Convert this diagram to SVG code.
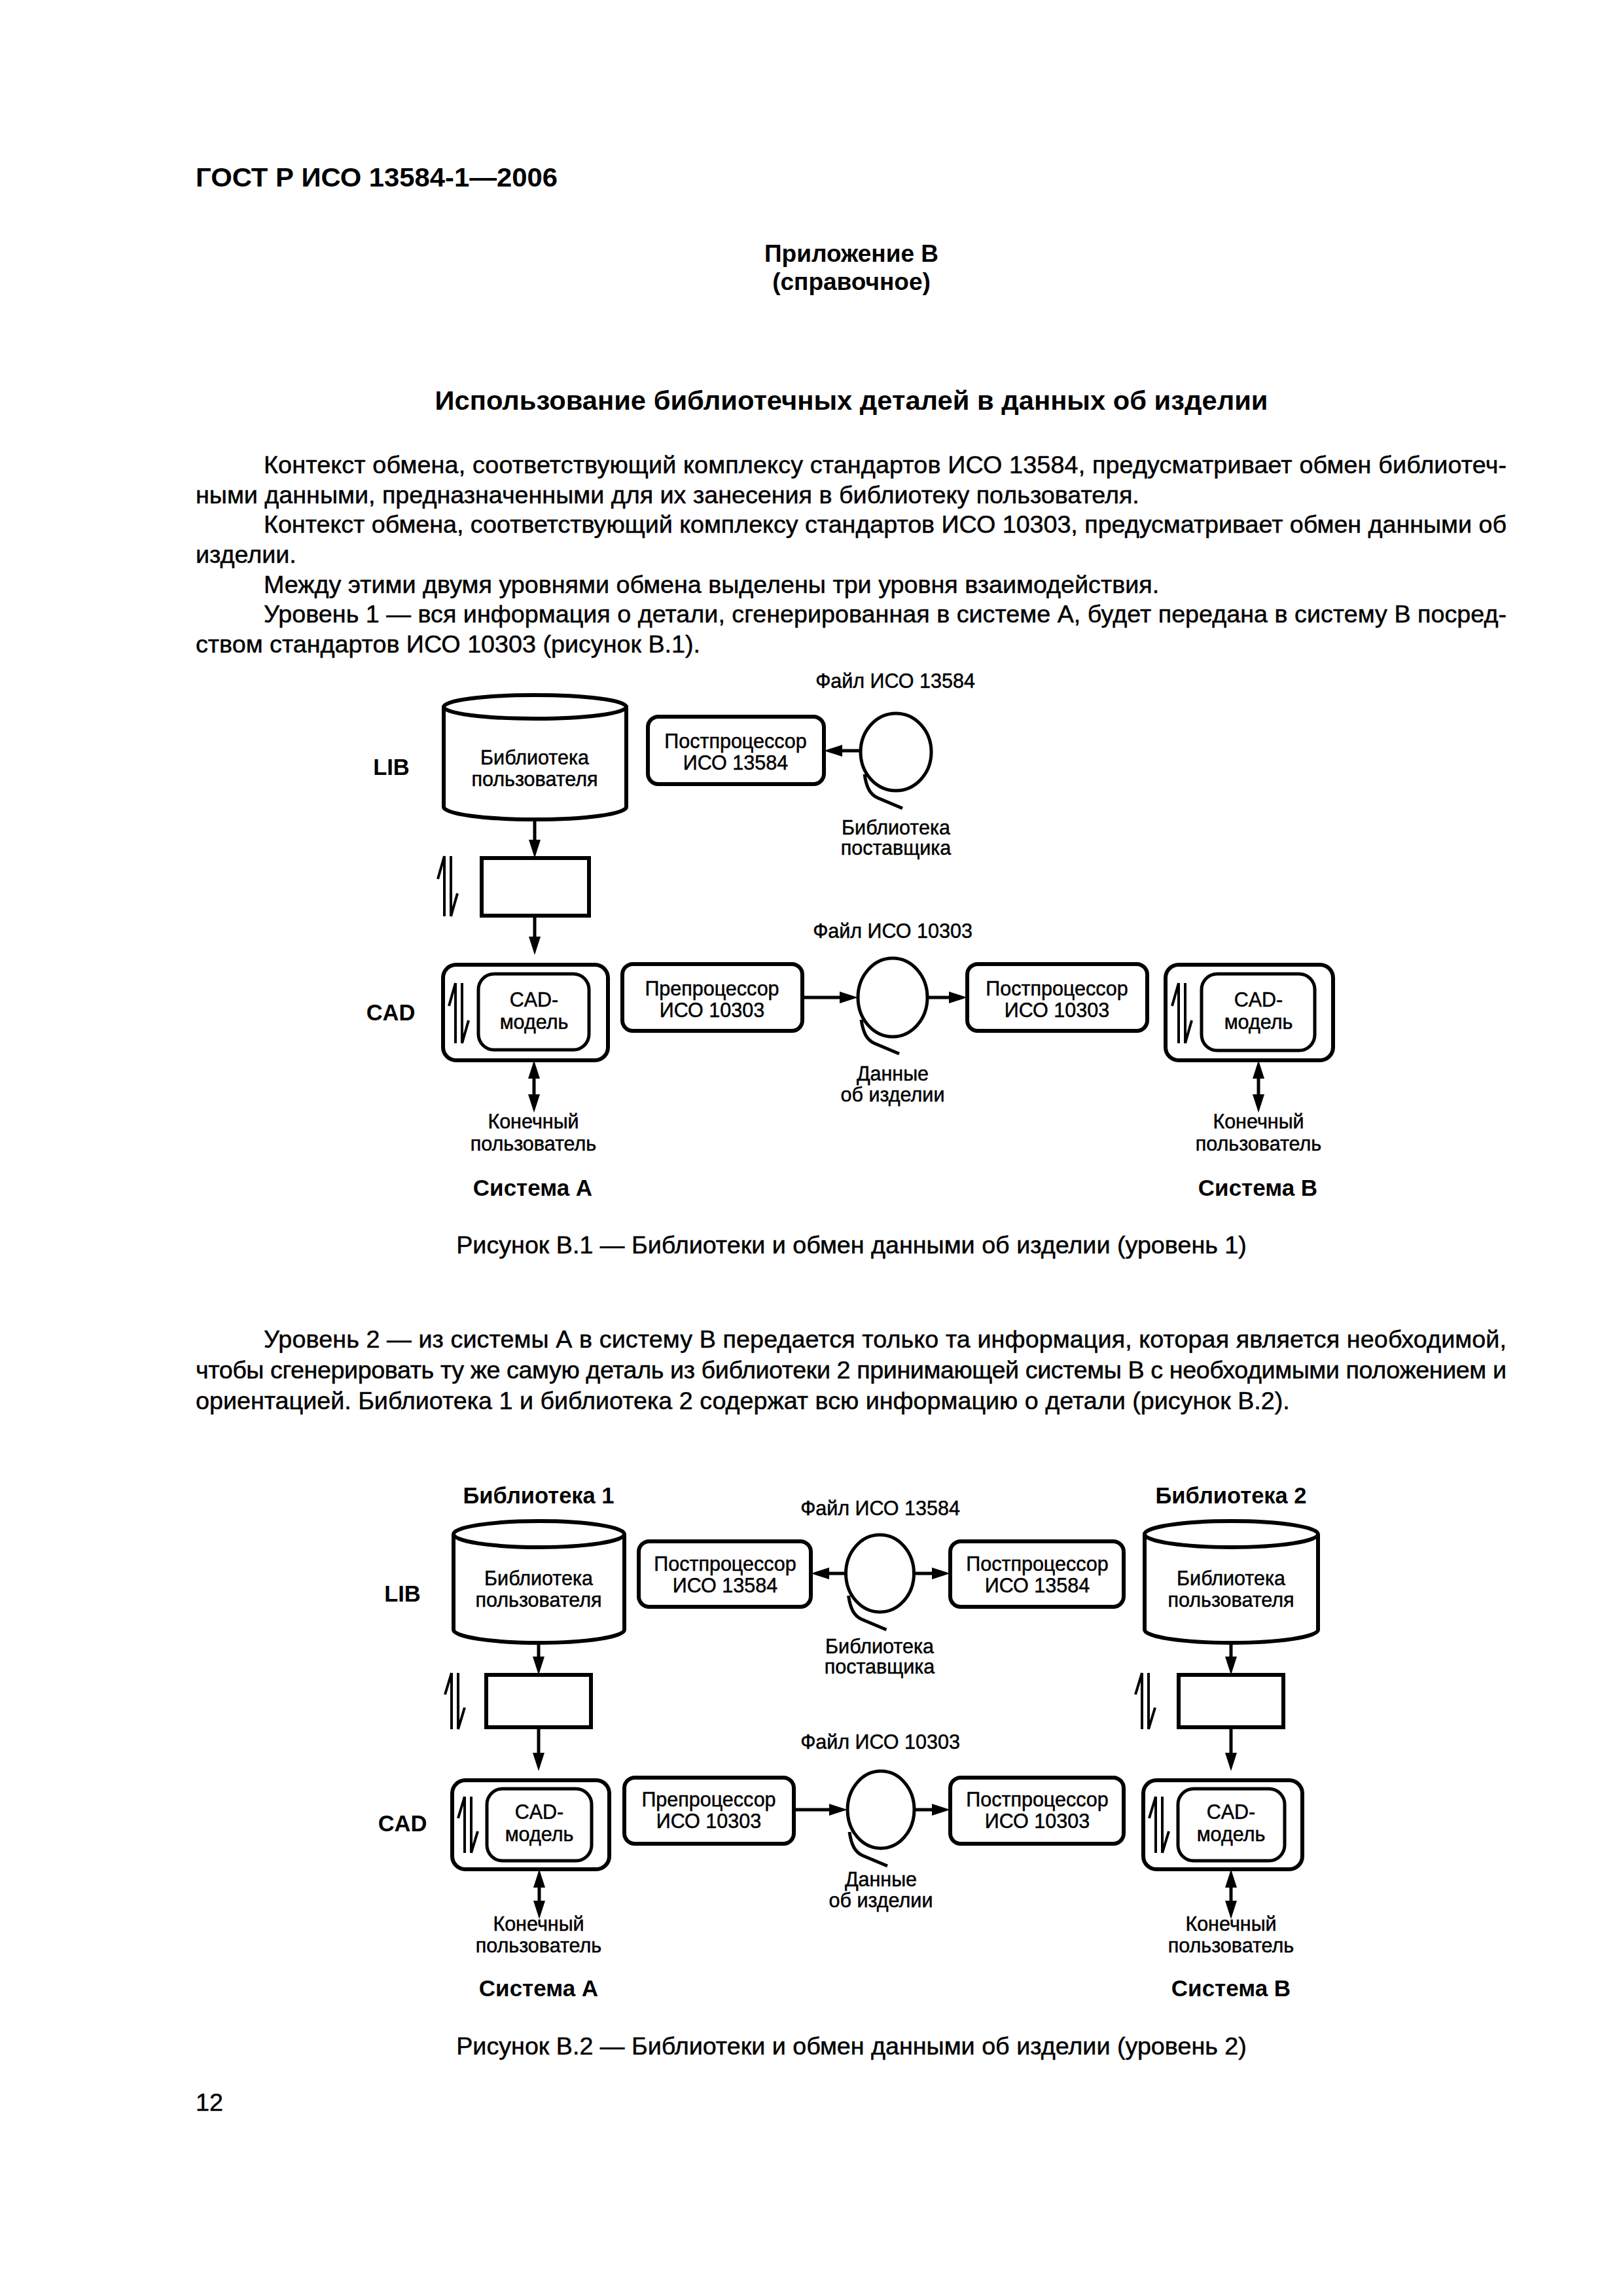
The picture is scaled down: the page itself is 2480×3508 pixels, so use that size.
<svg xmlns="http://www.w3.org/2000/svg" xmlns:xlink="http://www.w3.org/1999/xlink" width="2480" height="3508" viewBox="0 0 2480 3508">
<style>
text { font-family: "Liberation Sans", Arial, sans-serif; fill: #000; }
.body { font-size: 37.7px; stroke: #000; stroke-width: 0.5; }
.hd { font-size: 40px; font-weight: bold; }
.ctr { text-anchor: middle; }
.lbl { font-size: 30.5px; text-anchor: middle; stroke: #000; stroke-width: 0.5; }
.blbl { font-size: 34.5px; font-weight: bold; text-anchor: middle; }
.box { fill: #fff; stroke: #000; stroke-width: 6; }
.ibox { fill: #fff; stroke: #000; stroke-width: 5; }
.reel { fill: #fff; stroke: #000; stroke-width: 5; }
.tail { fill: none; stroke: #000; stroke-width: 5; }
.con { fill: none; stroke: #000; stroke-width: 5; }
.harp { fill: none; stroke: #000; stroke-width: 4; }
</style>
<defs>
<marker id="ah" viewBox="0 0 28 18" refX="14" refY="9" markerWidth="28" markerHeight="18" markerUnits="userSpaceOnUse" orient="auto-start-reverse">
<path d="M0,0 L28,9 L0,18 z" fill="#000"/>
</marker>
<path id="harp92" class="harp" d="M0,0 V92 M0,0 L-10,35 M10,0 V92 M10,92 L20,57"/>
<path id="harp86" class="harp" d="M0,0 V86 M0,0 L-10,33 M10,0 V86 M10,86 L20,53"/>
<path id="tailp" d="M-48,34 C-45,55 -39,65 -28,70 L10,86"/>
</defs>
<rect width="2480" height="3508" fill="#fff"/>

<g id="page-text">
<text class="hd" x="299" y="285" textLength="553" lengthAdjust="spacingAndGlyphs">ГОСТ Р ИСО 13584-1—2006</text>
<text class="hd ctr" x="1301" y="400" style="font-size:37px">Приложение В</text>
<text class="hd ctr" x="1301" y="443" style="font-size:37px">(справочное)</text>
<text class="hd ctr" x="1301" y="626" style="font-size:41.5px" textLength="1273" lengthAdjust="spacingAndGlyphs">Использование библиотечных деталей в данных об изделии</text>
<text class="body" x="403" y="723" textLength="1899" lengthAdjust="spacing">Контекст обмена, соответствующий комплексу стандартов ИСО 13584, предусматривает обмен библиотеч-</text>
<text class="body" x="299" y="769">ными данными, предназначенными для их занесения в библиотеку пользователя.</text>
<text class="body" x="403" y="814" textLength="1899" lengthAdjust="spacing">Контекст обмена, соответствующий комплексу стандартов ИСО 10303, предусматривает обмен данными об</text>
<text class="body" x="299" y="860">изделии.</text>
<text class="body" x="403" y="906">Между этими двумя уровнями обмена выделены три уровня взаимодействия.</text>
<text class="body" x="403" y="951" textLength="1899" lengthAdjust="spacing">Уровень 1 — вся информация о детали, сгенерированная в системе А, будет передана в систему В посред-</text>
<text class="body" x="299" y="997">ством стандартов ИСО 10303 (рисунок В.1).</text>
<text class="body ctr" x="1301" y="1915">Рисунок В.1 — Библиотеки и обмен данными об изделии (уровень 1)</text>
<text class="body" x="403" y="2059" textLength="1899" lengthAdjust="spacing">Уровень 2 — из системы А в систему В передается только та информация, которая является необходимой,</text>
<text class="body" x="299" y="2106" textLength="2003" lengthAdjust="spacing">чтобы сгенерировать ту же самую деталь из библиотеки 2 принимающей системы В с необходимыми положением и</text>
<text class="body" x="299" y="2153">ориентацией. Библиотека 1 и библиотека 2 содержат всю информацию о детали (рисунок В.2).</text>
<text class="body ctr" x="1301" y="3139">Рисунок В.2 — Библиотеки и обмен данными об изделии (уровень 2)</text>
<text class="body" x="299" y="3225">12</text>
</g>

<!-- ========== FIGURE 1 ========== -->
<g id="f1-labels">
<text class="lbl" x="1368" y="1051">Файл ИСО 13584</text>
<text class="lbl" x="1364" y="1433">Файл ИСО 10303</text>
<text class="blbl" x="598" y="1184">LIB</text>
<text class="blbl" x="597" y="1559">CAD</text>
<text class="blbl" x="814" y="1827" style="font-size:35px">Система А</text>
<text class="blbl" x="1922" y="1827" style="font-size:35px">Система В</text>
</g>

<g id="f1-userlib">
<path class="box" d="M678,1080 V1233 A139.5,19 0 0 0 957,1233 V1080"/>
<ellipse class="box" cx="817.5" cy="1080" rx="139.5" ry="18"/>
<text class="lbl" x="817" y="1168">Библиотека</text>
<text class="lbl" x="817" y="1201">пользователя</text>
</g>

<g id="f1-post13584">
<rect class="box" x="990" y="1095" width="269" height="103" rx="16"/>
<text class="lbl" x="1124" y="1143">Постпроцессор</text>
<text class="lbl" x="1124" y="1176">ИСО 13584</text>
</g>

<g id="f1-vendorlib">
<use xlink:href="#tailp" class="tail" transform="translate(1369,1149)"/>
<ellipse class="reel" cx="1369" cy="1149" rx="54" ry="59"/>
<text class="lbl" x="1369" y="1275">Библиотека</text>
<text class="lbl" x="1369" y="1306">поставщика</text>
</g>

<g id="f1-smallbox">
<rect class="box" x="736" y="1311" width="164" height="88"/>
<use xlink:href="#harp92" x="679" y="1308"/>
</g>

<g id="f1-cadA">
<rect class="box" x="677" y="1474" width="252" height="146" rx="20"/>
<rect class="ibox" x="731" y="1488" width="169" height="116" rx="24"/>
<use xlink:href="#harp92" x="696" y="1502"/>
<text class="lbl" x="816" y="1538">CAD-</text>
<text class="lbl" x="816" y="1572">модель</text>
</g>

<g id="f1-pre10303">
<rect class="box" x="951" y="1473" width="275" height="102" rx="16"/>
<text class="lbl" x="1088" y="1521">Препроцессор</text>
<text class="lbl" x="1088" y="1554">ИСО 10303</text>
</g>

<g id="f1-productdata">
<use xlink:href="#tailp" class="tail" transform="translate(1364,1524)"/>
<ellipse class="reel" cx="1364" cy="1524" rx="53" ry="60"/>
<text class="lbl" x="1364" y="1651">Данные</text>
<text class="lbl" x="1364" y="1683">об изделии</text>
</g>

<g id="f1-post10303">
<rect class="box" x="1478" y="1473" width="275" height="102" rx="16"/>
<text class="lbl" x="1615" y="1521">Постпроцессор</text>
<text class="lbl" x="1615" y="1554">ИСО 10303</text>
</g>

<g id="f1-cadB">
<rect class="box" x="1781" y="1474" width="256" height="146" rx="20"/>
<rect class="ibox" x="1836" y="1488" width="173" height="117" rx="24"/>
<use xlink:href="#harp92" x="1801" y="1502"/>
<text class="lbl" x="1923" y="1538">CAD-</text>
<text class="lbl" x="1923" y="1572">модель</text>
</g>

<g id="f1-enduserA">
<text class="lbl" x="815" y="1724">Конечный</text>
<text class="lbl" x="815" y="1758">пользователь</text>
</g>
<g id="f1-enduserB">
<text class="lbl" x="1923" y="1724">Конечный</text>
<text class="lbl" x="1923" y="1758">пользователь</text>
</g>

<!-- ========== FIGURE 2 ========== -->
<g id="f2-labels">
<text class="blbl" x="823" y="2297">Библиотека 1</text>
<text class="blbl" x="1881" y="2297">Библиотека 2</text>
<text class="lbl" x="1345" y="2315">Файл ИСО 13584</text>
<text class="lbl" x="1345" y="2672">Файл ИСО 10303</text>
<text class="blbl" x="615" y="2447">LIB</text>
<text class="blbl" x="615" y="2798">CAD</text>
<text class="blbl" x="823" y="3050" style="font-size:35px">Система А</text>
<text class="blbl" x="1881" y="3050" style="font-size:35px">Система В</text>
</g>

<g id="f2-userlib1">
<path class="box" d="M693,2344 V2490 A130.5,20 0 0 0 954,2490 V2344"/>
<ellipse class="box" cx="823.5" cy="2344" rx="130.5" ry="20"/>
<text class="lbl" x="823" y="2422">Библиотека</text>
<text class="lbl" x="823" y="2455">пользователя</text>
</g>

<g id="f2-userlib2">
<path class="box" d="M1749,2344 V2490 A132.5,20 0 0 0 2014,2490 V2344"/>
<ellipse class="box" cx="1881.5" cy="2344" rx="132.5" ry="20"/>
<text class="lbl" x="1881" y="2422">Библиотека</text>
<text class="lbl" x="1881" y="2455">пользователя</text>
</g>

<g id="f2-post13584L">
<rect class="box" x="976" y="2355" width="263" height="100" rx="16"/>
<text class="lbl" x="1108" y="2400">Постпроцессор</text>
<text class="lbl" x="1108" y="2433">ИСО 13584</text>
</g>

<g id="f2-vendorlib">
<use xlink:href="#tailp" class="tail" transform="translate(1344.5,2404)"/>
<ellipse class="reel" cx="1344.5" cy="2404" rx="52" ry="59"/>
<text class="lbl" x="1344" y="2526">Библиотека</text>
<text class="lbl" x="1344" y="2557">поставщика</text>
</g>

<g id="f2-post13584R">
<rect class="box" x="1452" y="2355" width="265" height="100" rx="16"/>
<text class="lbl" x="1585" y="2400">Постпроцессор</text>
<text class="lbl" x="1585" y="2433">ИСО 13584</text>
</g>

<g id="f2-smallbox1">
<rect class="box" x="743" y="2559" width="160" height="80"/>
<use xlink:href="#harp86" x="690" y="2556"/>
</g>
<g id="f2-smallbox2">
<rect class="box" x="1801" y="2559" width="160" height="80"/>
<use xlink:href="#harp86" x="1745" y="2556"/>
</g>

<g id="f2-cadA">
<rect class="box" x="691" y="2720" width="240" height="136" rx="20"/>
<rect class="ibox" x="744" y="2733" width="160" height="110" rx="24"/>
<use xlink:href="#harp86" x="710" y="2745"/>
<text class="lbl" x="824" y="2779">CAD-</text>
<text class="lbl" x="824" y="2813">модель</text>
</g>

<g id="f2-pre10303">
<rect class="box" x="954" y="2716" width="259" height="101" rx="16"/>
<text class="lbl" x="1083" y="2760">Препроцессор</text>
<text class="lbl" x="1083" y="2793">ИСО 10303</text>
</g>

<g id="f2-productdata">
<use xlink:href="#tailp" class="tail" transform="translate(1346,2765)"/>
<ellipse class="reel" cx="1346" cy="2765" rx="51" ry="59"/>
<text class="lbl" x="1346" y="2882">Данные</text>
<text class="lbl" x="1346" y="2914">об изделии</text>
</g>

<g id="f2-post10303">
<rect class="box" x="1452" y="2716" width="265" height="101" rx="16"/>
<text class="lbl" x="1585" y="2760">Постпроцессор</text>
<text class="lbl" x="1585" y="2793">ИСО 10303</text>
</g>

<g id="f2-cadB">
<rect class="box" x="1747" y="2720" width="243" height="136" rx="20"/>
<rect class="ibox" x="1800" y="2733" width="163" height="110" rx="24"/>
<use xlink:href="#harp86" x="1766" y="2745"/>
<text class="lbl" x="1881" y="2779">CAD-</text>
<text class="lbl" x="1881" y="2813">модель</text>
</g>

<g id="f2-enduserA">
<text class="lbl" x="823" y="2950">Конечный</text>
<text class="lbl" x="823" y="2983">пользователь</text>
</g>
<g id="f2-enduserB">
<text class="lbl" x="1881" y="2950">Конечный</text>
<text class="lbl" x="1881" y="2983">пользователь</text>
</g>

<g id="connectors" class="con">
<!-- figure 1 -->
<path d="M817,1252 V1297" marker-end="url(#ah)"/>
<path d="M817,1399 V1445" marker-end="url(#ah)"/>
<path d="M1315,1147 H1273" marker-end="url(#ah)"/>
<path d="M1226,1524 H1297" marker-end="url(#ah)"/>
<path d="M1417,1524 H1464" marker-end="url(#ah)"/>
<path d="M816,1634 V1686" marker-start="url(#ah)" marker-end="url(#ah)"/>
<path d="M1923,1634 V1686" marker-start="url(#ah)" marker-end="url(#ah)"/>
<!-- figure 2 -->
<path d="M823,2510 V2545" marker-end="url(#ah)"/>
<path d="M823,2639 V2692" marker-end="url(#ah)"/>
<path d="M1881,2510 V2545" marker-end="url(#ah)"/>
<path d="M1881,2639 V2692" marker-end="url(#ah)"/>
<path d="M1292,2404 H1253" marker-end="url(#ah)"/>
<path d="M1397,2404 H1438" marker-end="url(#ah)"/>
<path d="M1213,2765 H1281" marker-end="url(#ah)"/>
<path d="M1397,2765 H1438" marker-end="url(#ah)"/>
<path d="M824,2870 V2918" marker-start="url(#ah)" marker-end="url(#ah)"/>
<path d="M1881,2870 V2918" marker-start="url(#ah)" marker-end="url(#ah)"/>
</g>
</svg>
